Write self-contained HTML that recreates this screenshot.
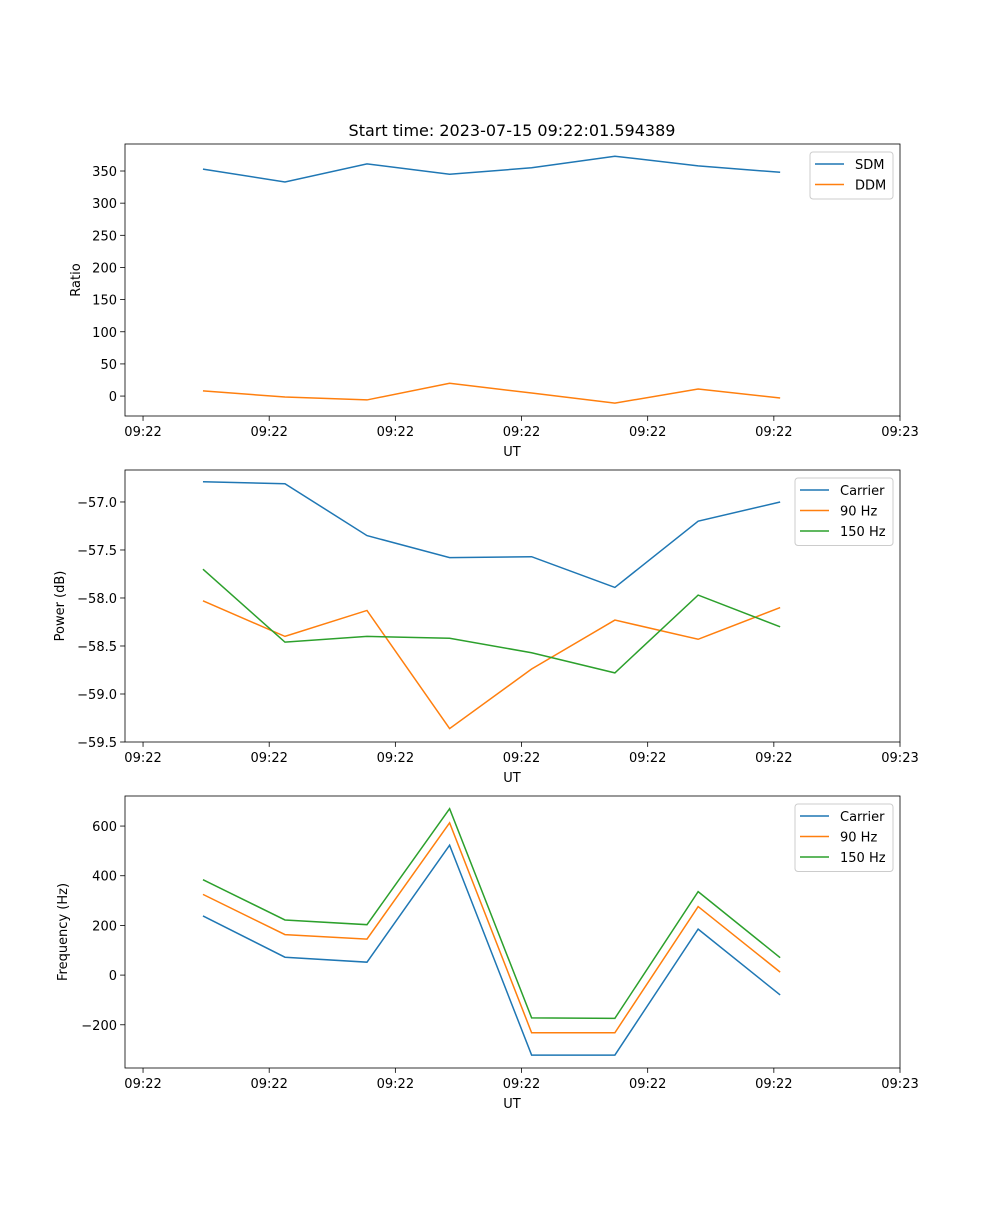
<!DOCTYPE html>
<html><head><meta charset="utf-8"><style>
body{margin:0;background:#fff}
svg text{font-family:"DejaVu Sans","Liberation Sans",sans-serif;font-size:13px;fill:#000}
</style></head><body>
<svg id="fig" width="1000" height="1200" xmlns="http://www.w3.org/2000/svg">
<text x="512" y="136" text-anchor="middle" style="font-size:16px">Start time: 2023-07-15 09:22:01.594389</text>
</svg>
<script>
const xValues=[0.475,1.125,1.775,2.43,3.08,3.74,4.4,5.05];
const xTicks=[0,1,2,3,4,5,6];
const xTickLabels=["09:22","09:22","09:22","09:22","09:22","09:22","09:23"];
const sdm=[353,333,361,345,355,373,358,348];
const ddm=[8,-1.5,-6,20,4.7,-11,11,-3];
const powCarrier=[-56.79,-56.81,-57.35,-57.58,-57.57,-57.89,-57.20,-57.0];
const pow90=[-58.03,-58.4,-58.13,-59.36,-58.74,-58.23,-58.43,-58.10];
const pow150=[-57.70,-58.46,-58.40,-58.42,-58.57,-58.78,-57.97,-58.30];
const frqCarrier=[238,72,52,523,-322,-322,185,-80];
const frq90=[325,163,145,613,-232,-232,276,12];
const frq150=[384,222,203,670,-172,-174,336,70];
const ticks1=[0,50,100,150,200,250,300,350];
const ticks2=[-57.0,-57.5,-58.0,-58.5,-59.0,-59.5];
const ticks3=[-200,0,200,400,600];
const C=["#1f77b4","#ff7f0e","#2ca02c"];
const NS="http://www.w3.org/2000/svg";
const svg=document.getElementById('fig');
function mk(t,a,p){const e=document.createElementNS(NS,t);for(const k in a)e.setAttribute(k,a[k]);(p||svg).appendChild(e);return e;}
function panel(o){
  const L=125,R=900,T=o.top,B=o.top+272;
  const g=mk('g',{});
  
  
  const xs=v=>L+(v-(-0.143))/(6.0-(-0.143))*(R-L);
  const ys=v=>B-(v-o.ymin)/(o.ymax-o.ymin)*(B-T);
  o.series.forEach((s,i)=>{
    const p=mk('polyline',{points:s.map((v,j)=>xs(xValues[j])+','+ys(v)).join(' '),fill:'none',stroke:C[i],'stroke-width':1.5},g);
    
    
  });
  const fr=mk('rect',{x:L,y:T,width:R-L,height:B-T,fill:'none',stroke:'#000','stroke-width':0.8},g);
  
  
  xTicks.forEach((t,i)=>{const x=xs(t);mk('line',{x1:x,x2:x,y1:B,y2:B+4.9,stroke:'#000','stroke-width':0.8},g);
    const tx=mk('text',{x:x,y:B+20,'text-anchor':'middle'},g);tx.textContent=xTickLabels[i];
    
    });
  o.yt.forEach(t=>{const y=ys(t);mk('line',{x1:L-4.9,x2:L,y1:y,y2:y,stroke:'#000','stroke-width':0.8},g);
    const tx=mk('text',{x:L-8,y:y+5,'text-anchor':'end'},g);tx.textContent=o.fmt(t).replace('-','\u2212');
    
    });
  const xl=mk('text',{x:512,y:B+40,'text-anchor':'middle'},g);xl.textContent='UT';
  
  
  const yl=mk('text',{x:0,y:0,'text-anchor':'middle',transform:`translate(${o.ylx},${(T+B)/2}) rotate(-90)`},g);yl.textContent=o.ylabel;
  
  
  const n=o.labels.length,lw=o.lw,lx=R-7-lw,ly=T+8;
  const lg=mk('g',{},g);
  
  
  mk('rect',{x:lx,y:ly,width:lw,height:6+n*20.5,rx:3,fill:'#fff',stroke:'#ccc','stroke-width':1},lg);
  o.labels.forEach((l,i)=>{const y=ly+12+i*20.5;
    mk('line',{x1:lx+5,x2:lx+34,y1:y,y2:y,stroke:C[i],'stroke-width':1.5},lg);
    const tx=mk('text',{x:lx+45,y:y+5},lg);tx.textContent=l;
    
    });
}
panel({name:'ratio-panel',top:144,ymin:-31,ymax:392,series:[sdm,ddm],labels:['SDM','DDM'],yt:ticks1,fmt:v=>String(v),ylabel:'Ratio',ylx:80,lw:83});
panel({name:'power-panel',top:470,ymin:-59.5,ymax:-56.667,series:[powCarrier,pow90,pow150],labels:['Carrier','90 Hz','150 Hz'],yt:ticks2,fmt:v=>v.toFixed(1),ylabel:'Power (dB)',ylx:64,lw:98});
panel({name:'frequency-panel',top:796,ymin:-374,ymax:721,series:[frqCarrier,frq90,frq150],labels:['Carrier','90 Hz','150 Hz'],yt:ticks3,fmt:v=>String(v),ylabel:'Frequency (Hz)',ylx:67,lw:98});
</script>
</body></html>
